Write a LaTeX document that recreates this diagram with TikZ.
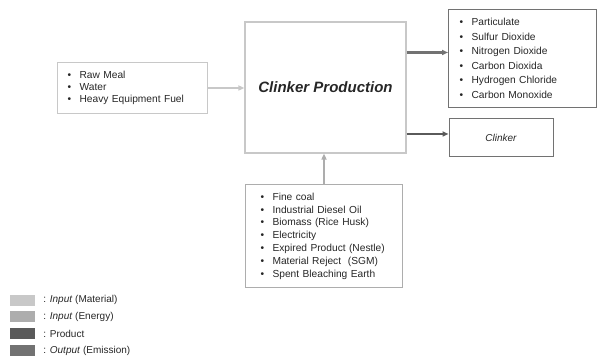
\documentclass[tikz,border=0pt]{standalone}
\usepackage{fontspec}
\setmainfont{Liberation Sans}
\usetikzlibrary{arrows.meta,positioning}
\definecolor{matgray}{HTML}{C8C8C8}
\definecolor{engray}{HTML}{ADADAD}
\definecolor{prodgray}{HTML}{5A5A5A}
\definecolor{emgray}{HTML}{727272}
\newcommand{\itm}{\textbullet\hspace{8.5pt}}

\begin{document}
\begin{tikzpicture}[x=1pt,y=-1pt,>={Triangle[length=6pt,width=5pt]},
  every node/.style={text=black!85},
  listbox/.style={draw,anchor=north west,align=left,inner ysep=0pt},
  flow/.style={->,line width=2pt},
  swatch/.style={minimum width=25pt,minimum height=11pt,inner sep=0pt,draw=none},%
  legtext/.style={inner sep=0pt,right=8pt of #1,font=\fontsize{10}{12}\selectfont}]
\useasboundingbox (0,0) rectangle (597,358);
% process and output boxes
\node[draw=matgray,line width=1.2pt,minimum width=161pt,minimum height=131pt,
  font=\fontsize{15}{18}\selectfont\bfseries\itshape] (main) at (325.5,87.5) {Clinker Production};
\node[listbox,draw=matgray,line width=1pt,inner xsep=10pt,text width=130pt,minimum height=51pt,
  font=\fontsize{10.2}{12.2}\selectfont] (mat) at (57,62)
  {\itm Raw Meal\\ \itm Water\\ \itm Heavy Equipment Fuel};
\node[listbox,draw=engray,line width=1pt,inner xsep=15pt,text width=127pt,minimum height=103pt,
  font=\fontsize{10.2}{12.8}\selectfont] (en) at (245,184)
  {\itm Fine coal\\ \itm Industrial Diesel Oil\\ \itm Biomass (Rice Husk)\\ \itm Electricity\\
   \itm Expired Product (Nestle)\\ \itm Material Reject\ \ (SGM)\\ \itm Spent Bleaching Earth};
\node[listbox,draw=emgray,line width=1pt,inner xsep=11pt,text width=126pt,minimum height=98pt,
  font=\fontsize{10.2}{14.5}\selectfont] (em) at (448,9)
  {\itm Particulate\\ \itm Sulfur Dioxide\\ \itm Nitrogen Dioxide\\ \itm Carbon Dioxida\\
   \itm Hydrogen Chloride\\ \itm Carbon Monoxide};
\node[draw=emgray,line width=1pt,minimum width=104pt,minimum height=38pt,
  font=\fontsize{10}{12}\selectfont\itshape] (clk) at (501,138) {Clinker};
% flows
\draw[flow,matgray] (mat) -- (mat -| main.west);
\draw[flow,engray] (en) -- (en |- main.south);
\draw[flow,emgray,line width=2.6pt] ([yshift=6pt]em.west -| main.east) -- ([yshift=6pt]em.west);
\draw[flow,prodgray,line width=2.6pt] ([yshift=4pt]clk.west -| main.east) -- ([yshift=4pt]clk.west);
% legend
\node[swatch,fill=matgray] (sw1) at (22.5,300) {};
\node[swatch,fill=engray] (sw2) at (22.5,316.5) {};
\node[swatch,fill=prodgray] (sw3) at (22.5,333.5) {};
\node[swatch,fill=emgray] (sw4) at (22.5,350.5) {};
\node[legtext=sw1] (l1) {: \textit{Input} (Material)};
\node[legtext=sw2] (l2) {: \textit{Input} (Energy)};
\node[legtext=sw3] (l3) {: Product};
\node[legtext=sw4] (l4) {: \textit{Output} (Emission)};
\end{tikzpicture}
\end{document}
